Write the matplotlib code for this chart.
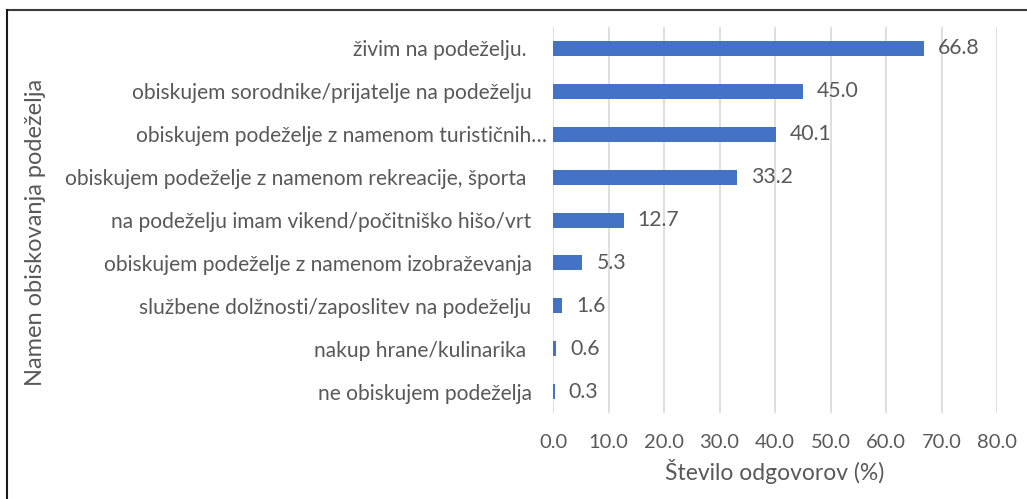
import matplotlib.pyplot as plt
from matplotlib.lines import Line2D

# Podatki
kategorije = [
    "živim na podeželju. ",
    "obiskujem sorodnike/prijatelje na podeželju",
    "obiskujem podeželje z namenom turističnih…",
    "obiskujem podeželje z namenom rekreacije, športa ",
    "na podeželju imam vikend/počitniško hišo/vrt",
    "obiskujem podeželje z namenom izobraževanja",
    "službene dolžnosti/zaposlitev na podeželju",
    "nakup hrane/kulinarika ",
    "ne obiskujem podeželja",
]
vrednosti = [66.8, 45.0, 40.1, 33.2, 12.7, 5.3, 1.6, 0.6, 0.3]
x_ticks = [0, 10, 20, 30, 40, 50, 60, 70, 80]

plt.rcParams['font.family'] = ['Lato', 'DejaVu Sans']
siva = "#595959"

fig = plt.figure(figsize=(10.27, 4.99), dpi=100)
ax = fig.add_axes([0.5385, 0.1723, 0.4323, 0.7736])

y = list(range(len(kategorije)))
ax.barh(y, vrednosti, height=0.35, color="#4472C4", zorder=3)
ax.set_ylim(len(kategorije) - 0.5, -0.5)
ax.set_xlim(0, 80)

# Oznake vrednosti
for yi, v in zip(y, vrednosti):
    ax.annotate(f"{v:.1f}", (v, yi), xytext=(10, 0), textcoords="offset points",
                va="center", ha="left", fontsize=15.3, color=siva)

ax.set_yticks(y)
ax.set_yticklabels(kategorije, fontsize=15.1, color=siva)
ax.set_xticks(x_ticks)
ax.set_xticklabels([f"{t:.1f}" for t in x_ticks], fontsize=14.5, color=siva)
ax.tick_params(axis="y", length=0, pad=15.5)
ax.tick_params(axis="x", length=0, pad=15)
# predolga oznaka sega bližje stolpcu
ax.yaxis.get_major_ticks()[2].set_pad(4.5)

ax.grid(axis="x", color="#D9D9D9", linewidth=1.2, zorder=0)
for s in ax.spines.values():
    s.set_visible(False)

ax.set_xlabel("Število odgovorov (%)", fontsize=16.5, color=siva, labelpad=6)
fig.text(0.035, 0.535, "Namen obiskovanja podeželja", rotation=90, fontsize=17,
         color=siva, ha="center", va="center")

# Okvir
fig.add_artist(Line2D([7 / 1027, 1], [1 - 10 / 499, 1 - 10 / 499], color="#3a3a3a", linewidth=1.5))
fig.add_artist(Line2D([7 / 1027, 7 / 1027], [0, 1 - 10 / 499], color="#1a1a1a", linewidth=1.5))

plt.savefig("out.png", dpi=100)
